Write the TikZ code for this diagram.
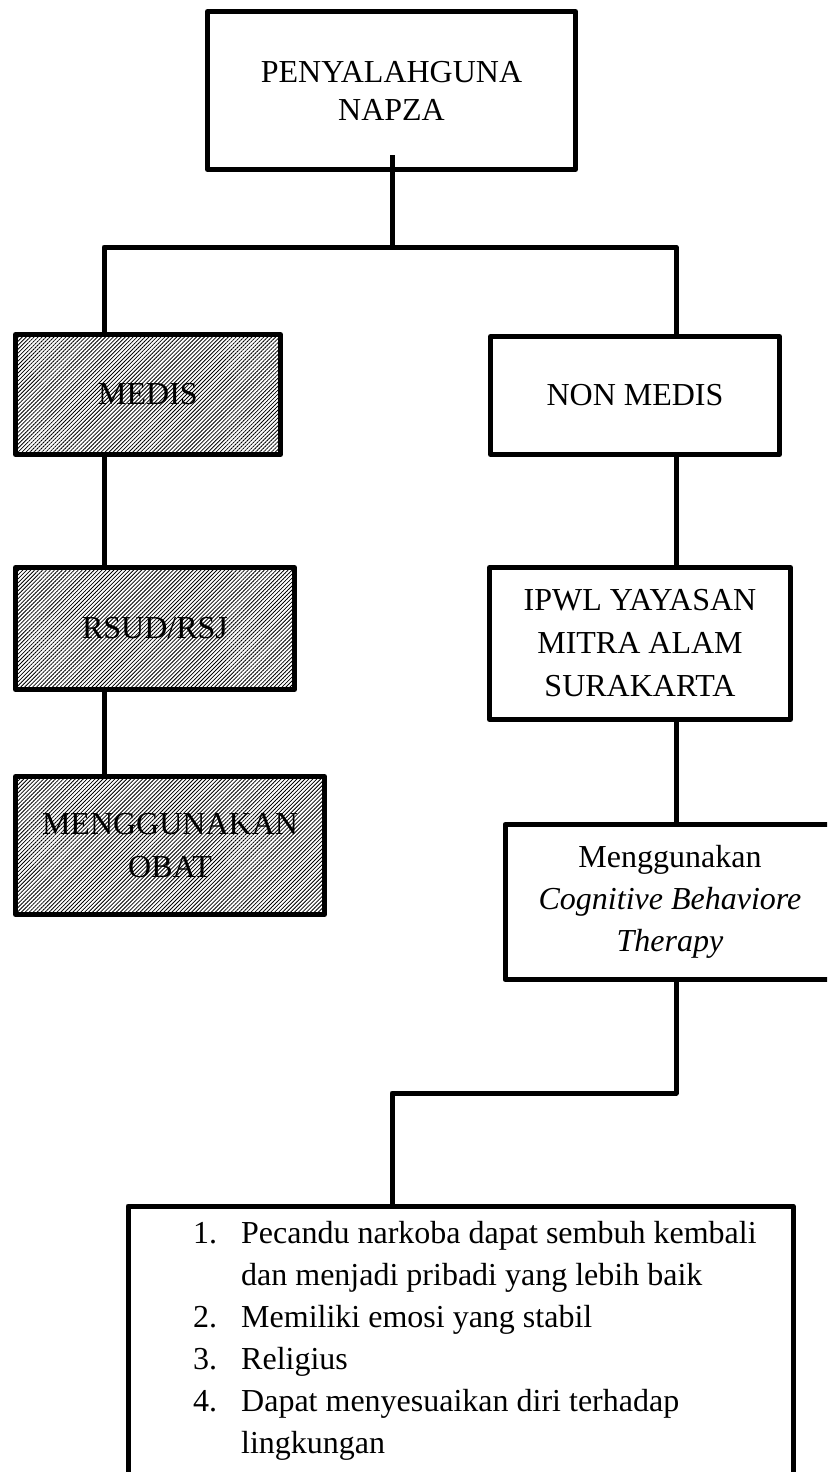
\documentclass[tikz,border=0pt]{standalone}
\usepackage{fontspec}
\setmainfont{Liberation Serif}
\usetikzlibrary{patterns.meta,calc}
\begin{document}
\begin{tikzpicture}[x=1pt,y=-1pt,
  box/.style={draw=black, line width=5pt, line join=round, inner sep=0pt, align=center, font=\fontsize{32}{43}\selectfont},
  hatch/.style={box, pattern={Lines[angle=45,distance=2.8pt,line width=0.8pt]}},
  conn/.style={line width=5pt, line join=round}]
\clip (0,0) rectangle (827,1472);
% nodes
\node[box, minimum width=368, minimum height=158, font=\fontsize{32}{38}\selectfont] (top) at (391.5,90.5) {PENYALAHGUNA\\NAPZA};
\node[hatch, minimum width=265, minimum height=120] (medis) at (148,394.5) {MEDIS};
\node[hatch, minimum width=279, minimum height=122] (rsud) at (155,628.5) {RSUD/RSJ};
\node[hatch, minimum width=309, minimum height=138] (mgo) at (170,845.5) {MENGGUNAKAN\\OBAT};
\node[box, minimum width=289, minimum height=118] (nonmedis) at (635,395.5) {NON MEDIS};
\node[box, minimum width=301, minimum height=152] (ipwl) at (640,643.5) {IPWL YAYASAN\\MITRA ALAM\\SURAKARTA};
\node[box, minimum width=330, minimum height=155, font=\fontsize{32}{42}\selectfont] (cbt) at (670,902) {Menggunakan\\\textit{Cognitive Behaviore}\\\textit{Therapy}};
\node[box, anchor=north west, minimum width=665, minimum height=320] (res) at (125.5,1203.5) {};
\node[anchor=base west, inner sep=0pt, font=\fontsize{32}{42}\selectfont] (reslist) at (193,1243) {%
\begin{tabular}[t]{@{}l@{}l@{}}
\makebox[48pt][l]{1.} & Pecandu narkoba dapat sembuh kembali\\
 & dan menjadi pribadi yang lebih baik\\
\makebox[48pt][l]{2.} & Memiliki emosi yang stabil\\
\makebox[48pt][l]{3.} & Religius\\
\makebox[48pt][l]{4.} & Dapat menyesuaikan diri terhadap\\
 & lingkungan
\end{tabular}};
% junction coordinates
\coordinate (ts) at (392,155);
\coordinate (tj) at (392,247);
\coordinate (lj) at (104,247);
\coordinate (rj) at (676,247);
\coordinate (bj1) at (676,1093);
\coordinate (bj2) at (392,1093);
% connectors
\draw[conn] (ts) -- (tj);
\draw[conn] (medis.north -| lj) -- (lj) -- (rj) -- (nonmedis.north -| rj);
\draw[conn] (medis.south -| lj) -- (rsud.north -| lj);
\draw[conn] (rsud.south -| lj) -- (mgo.north -| lj);
\draw[conn] (nonmedis.south -| rj) -- (ipwl.north -| rj);
\draw[conn] (ipwl.south -| rj) -- (cbt.north -| rj);
\draw[conn] (cbt.south -| bj1) -- (bj1) -- (bj2) -- (res.north -| bj2);
\end{tikzpicture}
\end{document}
